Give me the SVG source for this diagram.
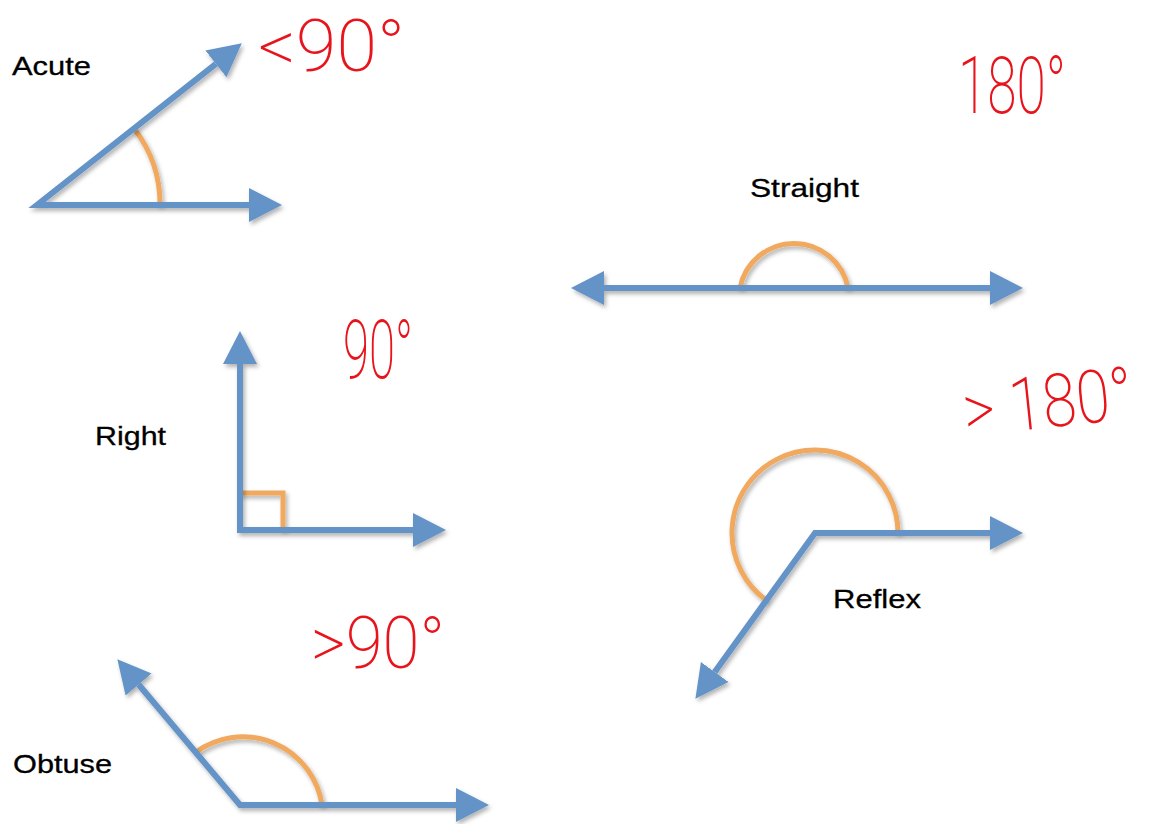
<svg xmlns="http://www.w3.org/2000/svg" width="1157" height="824" viewBox="0 0 1157 824">
<defs>
<style>
.ray{fill:none;stroke:#6393C7;stroke-width:6;stroke-linejoin:miter;filter:url(#sh)}
.arc{fill:none;stroke:#F0A95E;stroke-width:5;filter:url(#sh)}
.lbl{font-family:"Liberation Sans",Arial,sans-serif;font-size:26px;fill:#000;stroke:#000;stroke-width:0.3}
.hw{font-family:Roboto,"Liberation Sans",sans-serif;fill:#E8141C;font-weight:200}
</style>
<filter id="sh" filterUnits="userSpaceOnUse" x="0" y="0" width="1157" height="824">
<feDropShadow dx="2" dy="3" stdDeviation="2" flood-color="#000" flood-opacity="0.3"/>
</filter>
<marker id="ah" markerUnits="userSpaceOnUse" markerWidth="34" markerHeight="36" refX="0" refY="17" orient="auto-start-reverse" viewBox="0 0 34 34">
<path d="M0,0 L33,17 L0,34 Z" fill="#6393C7"/>
</marker>
</defs>
<rect width="1157" height="824" fill="#fff"/>

<g id="acute">
<path class="arc" d="M160,205 A123,123 0 0 0 134,128.5"/>
<path class="ray" d="M215.9,63.8 L37,205 H249" marker-start="url(#ah)" marker-end="url(#ah)"/>
<text class="lbl" x="12" y="75" textLength="79" lengthAdjust="spacingAndGlyphs">Acute</text>
<text class="hw" x="258" y="71" font-size="72" textLength="147" lengthAdjust="spacingAndGlyphs">&lt;90°</text>
</g>

<g id="straight">
<path class="arc" d="M740,288 A55,55 0 0 1 848,288"/>
<path class="ray" d="M604,288 H990" marker-start="url(#ah)" marker-end="url(#ah)"/>
<text class="lbl" x="750" y="197" textLength="109" lengthAdjust="spacingAndGlyphs">Straight</text>
<text class="hw" x="958" y="113" font-size="80" textLength="108" lengthAdjust="spacingAndGlyphs">180°</text>
</g>

<g id="right">
<path class="arc" d="M240,493 H283 V530"/>
<path class="ray" d="M240,364 V530 H413" marker-start="url(#ah)" marker-end="url(#ah)"/>
<text class="lbl" x="95" y="445" textLength="71" lengthAdjust="spacingAndGlyphs">Right</text>
<text class="hw" x="343" y="378" font-size="82" textLength="70" lengthAdjust="spacingAndGlyphs">90°</text>
</g>

<g id="reflex">
<path class="arc" d="M898,533 A83,83 0 1 0 766.4,600.3"/>
<path class="ray" d="M714.7,672 L815,533 H990" marker-start="url(#ah)" marker-end="url(#ah)"/>
<text class="lbl" x="833" y="608" textLength="88" lengthAdjust="spacingAndGlyphs">Reflex</text>
<text class="hw" x="966" y="436" font-size="74" textLength="170" lengthAdjust="spacingAndGlyphs" transform="rotate(-6 966 436)">&gt; 180°</text>
</g>

<g id="obtuse">
<path class="arc" d="M322,805 A80,80 0 0 0 196,752"/>
<path class="ray" d="M138.6,684.5 L240,805 H456" marker-start="url(#ah)" marker-end="url(#ah)"/>
<text class="lbl" x="13" y="773" textLength="99" lengthAdjust="spacingAndGlyphs">Obtuse</text>
<text class="hw" x="311" y="668" font-size="72" textLength="134" lengthAdjust="spacingAndGlyphs">&gt;90°</text>
</g>
</svg>
